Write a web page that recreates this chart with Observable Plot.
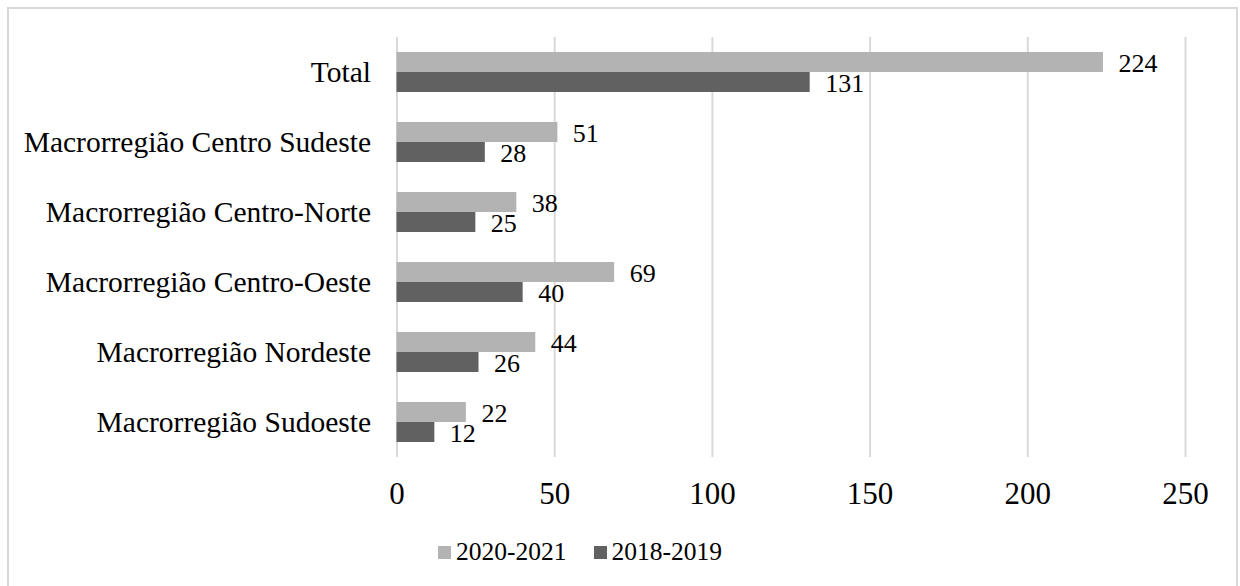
<!DOCTYPE html>
<html><head><meta charset="utf-8">
<script src="https://cdn.jsdelivr.net/npm/d3@7"></script>
<script src="https://cdn.jsdelivr.net/npm/@observablehq/plot@0.6"></script>
<style>
body{margin:0;background:#fff;width:1240px;height:586px;overflow:hidden;position:relative;font-family:"Liberation Serif","Times New Roman",serif;}
#frame{position:absolute;left:7px;top:7px;width:1231px;height:620px;border:2px solid #d9d9d9;box-sizing:border-box;}
#chart{position:absolute;left:0;top:0;}
#legend{position:absolute;left:438px;top:537px;height:30px;display:flex;align-items:center;font-size:25.5px;color:#000;white-space:nowrap;}
#legend .item{display:flex;align-items:center;margin-right:27px;}
#legend .sw{width:13px;height:13px;margin-right:5px;}
</style>
</head><body>
<div id="frame"></div>
<div id="chart"></div>
<div id="legend"></div>
<script>
const categories = ["Total","Macrorregião Centro Sudeste","Macrorregião Centro-Norte","Macrorregião Centro-Oeste","Macrorregião Nordeste","Macrorregião Sudoeste"];
const series = ["2020-2021","2018-2019"];
const values2020 = [224,51,38,69,44,22];
const values2018 = [131,28,25,40,26,12];
const xTicks = [0,50,100,150,200,250];
const colors = ["#b3b3b3","#616161"];

const data = [];
categories.forEach((c,i)=>{
  data.push({category:c, series:series[0], value:values2020[i]});
  data.push({category:c, series:series[1], value:values2018[i]});
});

const font = '"Liberation Serif","Times New Roman",serif';
const chart = Plot.plot({
  width:1240, height:520,
  marginLeft:396.5, marginRight:55, marginTop:37, marginBottom:63,
  style:{fontFamily:font, fontSize:"28px", color:"#000", background:"transparent", overflow:"visible"},
  x:{domain:[0,250], axis:null},
  y:{domain:series, axis:null, paddingInner:0, paddingOuter:0.75},
  fy:{domain:categories, padding:0, axis:null},
  color:{domain:series, range:colors},
  marks:[
    Plot.ruleX(xTicks, {stroke:"#d9d9d9", strokeWidth:2}),
    Plot.barX(data, {fy:"category", y:"series", x:"value", fill:"series"}),
    Plot.text(data, {fy:"category", y:"series", x:"value", text:d=>String(d.value), textAnchor:"start", dx:15, dy:1, fontSize:26, fill:"#000"}),
    Plot.axisFy({anchor:"left", tickSize:0, tickPadding:26, fontSize:29.5, label:null}),
    Plot.axisX(xTicks, {anchor:"bottom", tickSize:0, tickPadding:24, fontSize:31, label:null})
  ]
});
document.getElementById("chart").appendChild(chart);

const legend = document.getElementById("legend");
series.forEach((s,i)=>{
  const item = document.createElement("div");
  item.className = "item";
  const sw = document.createElement("span");
  sw.className = "sw";
  sw.style.background = colors[i];
  const t = document.createElement("span");
  t.textContent = s;
  item.appendChild(sw); item.appendChild(t);
  legend.appendChild(item);
});
</script>
</body></html>
